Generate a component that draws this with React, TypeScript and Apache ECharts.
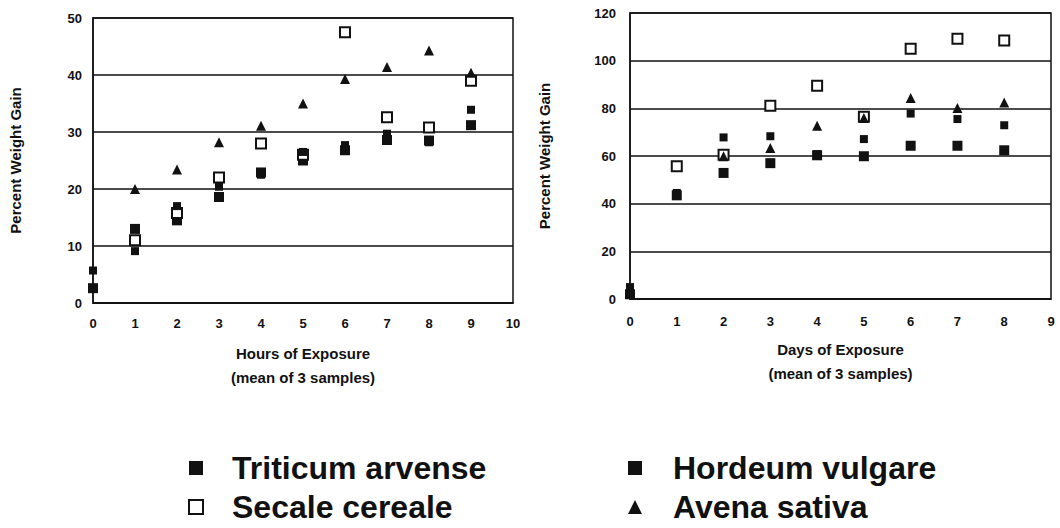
import React, { useEffect, useRef } from "react";
import * as echarts from "echarts";

// ---- Left panel: hours of exposure ----
const hours = [0, 1, 2, 3, 4, 5, 6, 7, 8, 9];
const hoursTriticum = [2.6, 13.0, 14.5, 18.6, 22.9, 25.0, 26.8, 28.6, 28.5, 31.2];
const hoursSecale = [null, 11.0, 15.8, 22.0, 28.0, 26.0, 47.5, 32.6, 30.8, 39.0];
const hoursHordeum = [5.7, 9.1, 17.0, 20.4, 22.5, 26.5, 27.7, 29.7, 28.2, 33.9];
const hoursAvena = [null, 20.0, 23.4, 28.2, 31.1, 35.0, 39.3, 41.4, 44.3, 40.4];

// ---- Right panel: days of exposure ----
const days = [0, 1, 2, 3, 4, 5, 6, 7, 8];
const daysTriticum = [2.0, 43.5, 52.9, 57.0, 60.3, 59.9, 64.3, 64.3, 62.4];
const daysSecale = [null, 55.7, 60.5, 81.1, 89.5, 76.5, 105.0, 109.2, 108.5];
const daysHordeum = [5.0, 44.5, 67.8, 68.3, 60.8, 67.1, 77.8, 75.5, 72.9];
const daysAvena = [null, null, 59.9, 63.4, 72.7, 75.9, 84.3, 80.1, 82.5];

const names = ["Triticum arvense", "Secale cereale", "Hordeum vulgare", "Avena sativa"];
const hoursTicks = { min: 0, max: 50, interval: 10 };
const daysTicks = { min: 0, max: 120, interval: 20 };

const INK = "#111";
const FONT = "'Liberation Sans', Arial, Helvetica, sans-serif";

function pairs(xs: number[], ys: (number | null)[]) {
  const out: number[][] = [];
  xs.forEach((x, i) => {
    const v = ys[i];
    if (v !== null && v !== undefined) out.push([x, v]);
  });
  return out;
}

const seriesStyles = [
  { symbol: "rect", symbolSize: 10, itemStyle: { color: INK, opacity: 1 } },
  { symbol: "rect", symbolSize: 10, itemStyle: { color: "#fff", borderColor: INK, borderWidth: 2, opacity: 1 } },
  { symbol: "rect", symbolSize: 8, itemStyle: { color: INK, opacity: 1 } },
  { symbol: "triangle", symbolSize: 10, itemStyle: { color: INK, opacity: 1 } },
];

export default function App() {
  const ref = useRef<HTMLDivElement>(null);

  useEffect(() => {
    if (!ref.current) return;
    const chart = echarts.init(ref.current, undefined, { renderer: "svg" });

    const hoursData = [hoursTriticum, hoursSecale, hoursHordeum, hoursAvena];
    const daysData = [daysTriticum, daysSecale, daysHordeum, daysAvena];

    const series: any[] = [];
    names.forEach((n, i) => {
      series.push({
        type: "scatter",
        name: n,
        xAxisIndex: 0,
        yAxisIndex: 0,
        data: pairs(hours, hoursData[i]),
        ...seriesStyles[i],
      });
      series.push({
        type: "scatter",
        name: n,
        xAxisIndex: 1,
        yAxisIndex: 1,
        data: pairs(days, daysData[i]),
        ...seriesStyles[i],
      });
    });

    const axisLabel = { color: INK, fontSize: 13, fontWeight: "bold" as const, fontFamily: FONT };
    const nameText = { color: INK, fontSize: 15, fontWeight: "bold" as const, fontFamily: FONT, lineHeight: 24 };
    const split = { show: true, lineStyle: { color: INK, width: 1.5 } };
    const line = { show: true, onZero: false, lineStyle: { color: INK, width: 1.5 } };

    const legendText = {
      color: INK,
      fontSize: 32,
      fontWeight: "bold" as const,
      fontFamily: FONT,
      lineHeight: 32,
      padding: [0, 0, 0, 24],
    };

    chart.setOption({
      animation: false,
      backgroundColor: "#fff",
      grid: [
        { left: 93, top: 18, width: 420, height: 285, show: true, borderColor: INK, borderWidth: 1.5 },
        { left: 630, top: 13, width: 421, height: 286, show: true, borderColor: INK, borderWidth: 1.5 },
      ],
      xAxis: [
        {
          type: "value",
          gridIndex: 0,
          min: 0,
          max: 10,
          interval: 1,
          axisLine: line,
          axisTick: { show: false },
          splitLine: { show: false },
          axisLabel: { ...axisLabel, margin: 14 },
          name: "Hours of Exposure\n(mean of 3 samples)",
          nameLocation: "middle",
          nameGap: 38,
          nameTextStyle: nameText,
        },
        {
          type: "value",
          gridIndex: 1,
          min: 0,
          max: 9,
          interval: 1,
          axisLine: line,
          axisTick: { show: false },
          splitLine: { show: false },
          axisLabel: { ...axisLabel, margin: 16 },
          name: "Days of Exposure\n(mean of 3 samples)",
          nameLocation: "middle",
          nameGap: 38,
          nameTextStyle: nameText,
        },
      ],
      yAxis: [
        {
          type: "value",
          gridIndex: 0,
          ...hoursTicks,
          axisLine: line,
          axisTick: { show: false },
          splitLine: split,
          axisLabel: { ...axisLabel, margin: 11 },
          name: "Percent Weight Gain",
          nameLocation: "middle",
          nameRotate: 90,
          nameGap: 70,
          nameTextStyle: { ...nameText, lineHeight: 16 },
        },
        {
          type: "value",
          gridIndex: 1,
          ...daysTicks,
          axisLine: line,
          axisTick: { show: false },
          splitLine: split,
          axisLabel: { ...axisLabel, margin: 14 },
          name: "Percent Weight Gain",
          nameLocation: "middle",
          nameRotate: 90,
          nameGap: 78,
          nameTextStyle: { ...nameText, lineHeight: 16 },
        },
      ],
      legend: [
        {
          data: [names[0], names[1]],
          orient: "vertical",
          left: 188,
          top: 452,
          height: 76,
          padding: 0,
          itemWidth: 14,
          itemHeight: 14,
          itemGap: 7,
          textStyle: legendText,
        },
        {
          data: [names[2], names[3]],
          orient: "vertical",
          left: 628,
          top: 452,
          height: 76,
          padding: 0,
          itemWidth: 14,
          itemHeight: 14,
          itemGap: 7,
          textStyle: { ...legendText, padding: [0, 0, 0, 26] },
        },
      ],
      series,
    });

    return () => chart.dispose();
  }, []);

  return (
    <div
      ref={ref}
      style={{ position: "absolute", left: 0, top: 0, width: 1060, height: 528 }}
    />
  );
}
